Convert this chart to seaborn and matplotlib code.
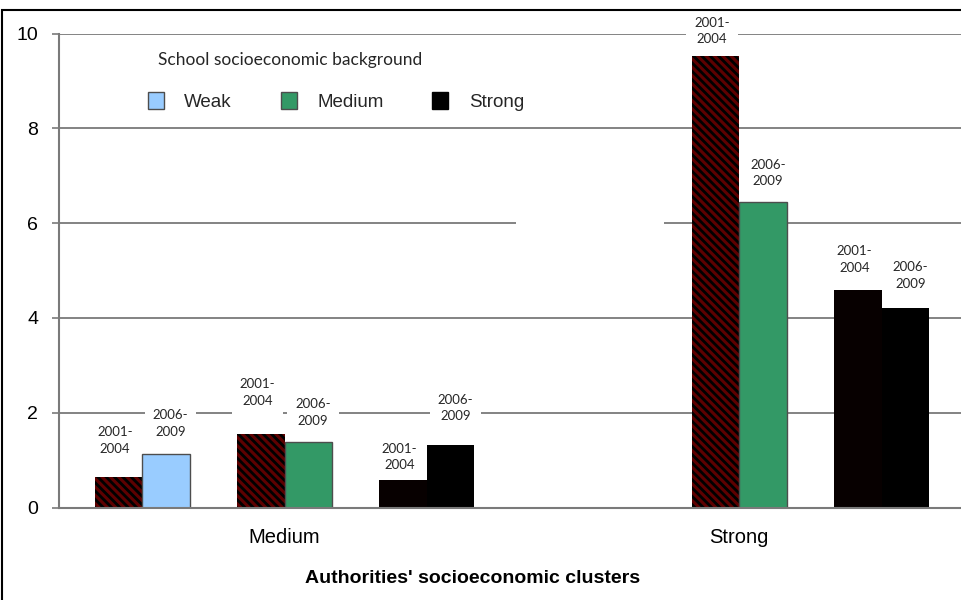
import numpy as np
import pandas as pd
import matplotlib
matplotlib.use("Agg")
import matplotlib.pyplot as plt
from matplotlib.patches import Patch, Rectangle
import seaborn as sns

# Authorities' clusters on the x axis, school background inside each cluster
clusters = ["Medium", "Strong"]
backgrounds = ["Weak", "Medium", "Strong"]
periods = ["2001-2004", "2006-2009"]
# rows: authorities' cluster, columns: school background (NaN = no bar)
values_2001_2004 = [[0.65, 1.55, 0.58], [np.nan, 9.53, 4.59]]
values_2006_2009 = [[1.13, 1.39, 1.33], [np.nan, 6.44, 4.22]]
y_ticks = [0, 2, 4, 6, 8, 10]
axis_title = "Authorities' socioeconomic clusters"
legend_title = "School socioeconomic background"

# how far (points) each period label sits above its bar, in drawing order
label_lift = [26, 22, 30, 21, 16.5, 26.5, 18, 21, 22, 23]

sns.set_theme(style="white")
plt.rcParams["font.family"] = ["Liberation Sans", "DejaVu Sans"]
plt.rcParams["hatch.linewidth"] = 2.2

# each bar is one unit wide; the three pairs of a cluster sit one unit apart
cluster_step = 9.58
pair_offsets = [-3.0, 0.0, 3.0]
period_offsets = [-0.5, 0.5]

rows = []
for ci, cl in enumerate(clusters):
    for bi, bg in enumerate(backgrounds):
        for pi, (per, vals) in enumerate(zip(periods, [values_2001_2004, values_2006_2009])):
            v = vals[ci][bi]
            if np.isnan(v):
                continue
            rows.append(dict(cluster=cl, background=bg, period=per,
                             series=f"{bg} {per}",
                             pos=ci * cluster_step + pair_offsets[bi] + period_offsets[pi],
                             value=v))
df = pd.DataFrame(rows)
df["lift"] = label_lift

series_order = [f"{bg} {per}" for bg in backgrounds for per in periods]
palette = {
    "Weak 2001-2004": "#000000",
    "Weak 2006-2009": "#99CCFF",
    "Medium 2001-2004": "#000000",
    "Medium 2006-2009": "#339966",
    "Strong 2001-2004": "#070000",
    "Strong 2006-2009": "#000000",
}

fig = plt.figure(figsize=(9.61, 6.0), dpi=100)
ax = fig.add_axes([59 / 961, 0.154, 902 / 961, 0.79])

sns.barplot(data=df, x="pos", y="value", hue="series", hue_order=series_order,
            palette=palette, native_scale=True, width=1.0, dodge=False,
            errorbar=None, saturation=1, legend=False, zorder=2, ax=ax)

# style each bar and put its period label above it
for patch in ax.patches:
    cx = patch.get_x() + patch.get_width() / 2
    row = df.loc[(df["pos"] - cx).abs().idxmin()]
    if row["period"] == "2001-2004" and row["background"] != "Strong":
        patch.set_facecolor("#000000")
        patch.set_edgecolor("#5E0000")
        patch.set_hatch("\\\\\\\\")
        patch.set_linewidth(0)
    elif row["background"] == "Strong":
        patch.set_linewidth(0)
    else:
        patch.set_edgecolor("#4D4D4D")
        patch.set_linewidth(1.0)
    dx = -2.5 if row["period"] == "2001-2004" else 3.5
    ax.annotate(row["period"].replace("-", "-\n"),
                xy=(cx, row["value"]), xytext=(dx, row["lift"]),
                textcoords="offset points", ha="center", va="center",
                fontsize=9.5, family=["Lato", "DejaVu Sans"], linespacing=1.45,
                bbox=dict(boxstyle="square,pad=0.6", fc="white", ec="none"),
                zorder=1.5)

ax.set_xlim(-4.75, 14.25)
ax.set_ylim(0, 10)
ax.set_yticks(y_ticks)
ax.set_yticklabels([str(t) for t in y_ticks])
ax.set_xticks([i * cluster_step for i in range(len(clusters))])
ax.set_xticklabels(clusters)
ax.set_ylabel("")

ax.set_axisbelow(True)
ax.yaxis.grid(True, color="#6E6E6E", linewidth=1.2)
ax.xaxis.grid(False)
# blank stretch on the 6 gridline between the two clusters
ax.add_patch(Rectangle((4.88, 5.85), 3.11, 0.3, fc="white", ec="none", zorder=1))

for side in ["top", "right"]:
    ax.spines[side].set_visible(False)
for side in ["left", "bottom"]:
    ax.spines[side].set_color("#7A7A7A")
    ax.spines[side].set_linewidth(1.5)

ax.tick_params(axis="y", left=True, length=5, width=1.2, color="#7A7A7A",
               pad=10, labelsize=14, labelcolor="black", direction="out")
ax.tick_params(axis="x", bottom=False, length=0, pad=15, labelsize=14.5,
               labelcolor="black")

ax.set_xlabel(axis_title, fontsize=14, fontweight="bold", color="black")
ax.xaxis.set_label_coords(0.458, -0.132)

handles = [
    Patch(facecolor="#99CCFF", edgecolor="#4D4D4D", linewidth=1, label="Weak"),
    Patch(facecolor="#339966", edgecolor="#4D4D4D", linewidth=1, label="Medium"),
    Patch(facecolor="#000000", edgecolor="#000000", linewidth=1, label="Strong"),
]
leg = ax.legend(handles=handles, title=legend_title, ncol=3, loc="upper left",
                bbox_to_anchor=(0.09, 0.978), frameon=False, fontsize=13.5,
                title_fontproperties={"family": ["Lato", "DejaVu Sans"], "size": 12.5},
                alignment="left", handlelength=0.85, handleheight=1.0,
                handletextpad=1.1, columnspacing=2.6, labelspacing=1.3,
                borderaxespad=0)
leg.get_title().set_x(10)

# outer frame of the figure
fig.add_artist(Rectangle((2 / 961, -0.05), 1.1, 0.9833 + 0.05,
                         transform=fig.transFigure, fill=False,
                         edgecolor="black", linewidth=1.5))

fig.savefig("out.png", dpi=100)
